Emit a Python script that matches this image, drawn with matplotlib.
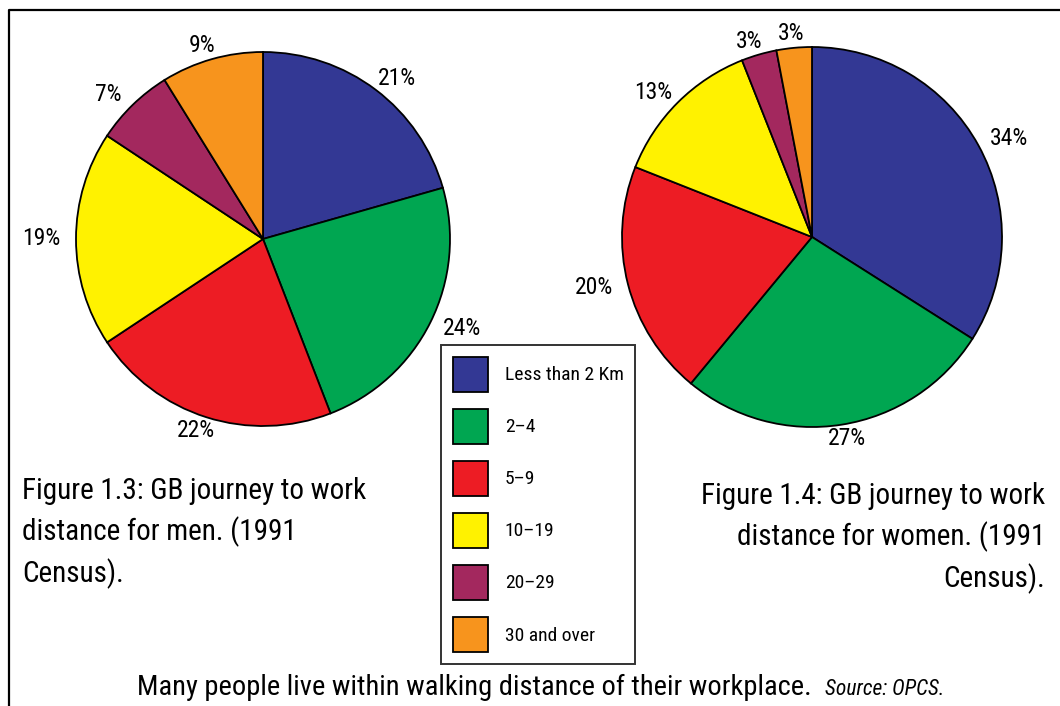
import matplotlib
matplotlib.use("Agg")
import matplotlib.pyplot as plt
import numpy as np
from matplotlib.lines import Line2D
from matplotlib.patches import Patch

# --- data ---
categories = ["Less than 2 Km", "2\u20134", "5\u20139", "10\u201319", "20\u201329", "30 and over"]
men_pct = [21, 24, 22, 19, 7, 9]
women_pct = [34, 27, 20, 13, 3, 3]
colors = ["#333894", "#00A651", "#ED1C24", "#FFF200", "#A3285E", "#F7941D"]

men_caption = "Figure 1.3: GB journey to work\ndistance for men. (1991\nCensus)."
women_caption = "Figure 1.4: GB journey to work\ndistance for women. (1991\nCensus)."
bottom_caption = "Many people live within walking distance of their workplace."
source_note = "Source: OPCS."

plt.rcParams['font.family'] = ['Roboto Condensed', 'PT Sans Narrow', 'DejaVu Sans']

W, H = 1060, 706
fig = plt.figure(figsize=(W / 100, H / 100), dpi=100)


def px_axes(cx, cy, r, pad=1.3):
    half = r * pad
    ax = fig.add_axes([(cx - half) / W, (H - cy - half) / H, 2 * half / W, 2 * half / H])
    return ax, pad


def draw_pie(ax, pad, values):
    wedges, _ = ax.pie(values, colors=colors, startangle=90, counterclock=False,
                       wedgeprops=dict(edgecolor="black", linewidth=1.3))
    # labels just outside the rim, pushed out by roughly half the text box
    for w, v in zip(wedges, values):
        ang = np.deg2rad((w.theta1 + w.theta2) / 2)
        ux, uy = np.cos(ang), np.sin(ang)
        ax.annotate(f"{v}%", xy=(ux, uy), xytext=(ux * 35, uy * 14),
                    textcoords="offset pixels", ha="center", va="center", fontsize=17)
    ax.set_xlim(-pad, pad)
    ax.set_ylim(-pad, pad)
    ax.set_aspect("equal")
    ax.axis("off")
    return wedges


ax1, p1 = px_axes(263, 239, 187)
draw_pie(ax1, p1, men_pct)
ax2, p2 = px_axes(812, 237, 190)
draw_pie(ax2, p2, women_pct)

# frame lines (top and left only)
fig.add_artist(Line2D([9 / W, 9 / W, 1.0], [0.0, 1 - 10 / H, 1 - 10 / H],
                      color="black", linewidth=1.6))

# captions
fig.text(22 / W, 1 - 477 / H, men_caption, ha="left", va="top", fontsize=21, linespacing=1.48)
fig.text(1045 / W, 1 - 482 / H, women_caption, ha="right", va="top", fontsize=21,
         linespacing=1.48, multialignment="right")

fig.text(812 / W, 1 - 695 / H, bottom_caption, ha="right", va="baseline", fontsize=20.5)
fig.text(825 / W, 1 - 695 / H, source_note, ha="left", va="baseline", fontsize=15.5, style="italic")

# legend
handles = [Patch(facecolor=c, edgecolor="black", linewidth=1.3) for c in colors]
leg = fig.legend(handles, categories, loc="upper left", bbox_to_anchor=(441 / W, 1 - 345 / H),
                 fontsize=14, frameon=True, fancybox=False, shadow=False,
                 handlelength=1.8, handleheight=2.39, labelspacing=0.88,
                 borderpad=0.6, handletextpad=0.88, borderaxespad=0)
leg.get_frame().set_edgecolor("black")
leg.get_frame().set_linewidth(1.4)

fig.savefig("out.png", dpi=100)
